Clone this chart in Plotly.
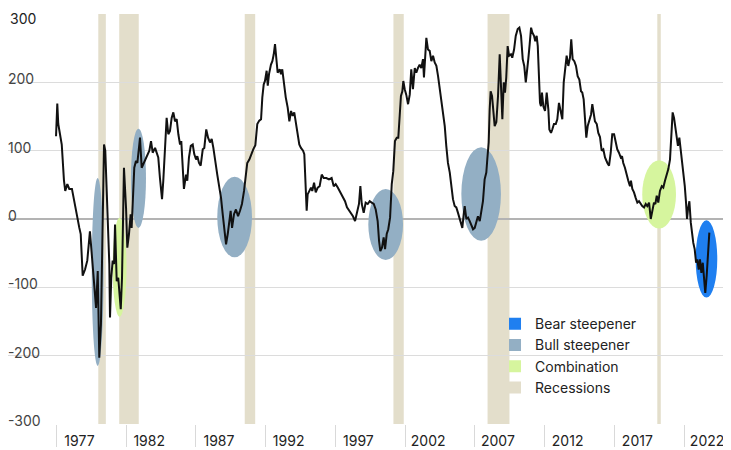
import plotly.graph_objects as go

# 10y - 2y spread (bp)
years = [
    1976.97, 1977.06, 1977.13, 1977.38, 1977.54, 1977.63, 1977.78, 1977.92, 1978.11, 1978.26,
    1978.45, 1978.64, 1978.74, 1978.88, 1979.05, 1979.21, 1979.40, 1979.57, 1979.71, 1979.84,
    1979.96, 1980.07, 1980.19, 1980.32, 1980.41, 1980.50, 1980.65, 1980.79, 1980.84, 1980.93,
    1981.03, 1981.13, 1981.20, 1981.32, 1981.43, 1981.61, 1981.70, 1981.84, 1981.99, 1982.08,
    1982.20, 1982.32, 1982.39, 1982.51, 1982.58, 1982.70, 1982.80, 1982.94, 1982.99, 1983.11,
    1983.28, 1983.47, 1983.66, 1983.78, 1983.90, 1984.07, 1984.30, 1984.42, 1984.57, 1984.66,
    1984.78, 1984.90, 1985.02, 1985.14, 1985.26, 1985.38, 1985.50, 1985.62, 1985.74, 1985.86,
    1985.95, 1986.05, 1986.14, 1986.29, 1986.38, 1986.50, 1986.63, 1986.77, 1986.88, 1987.01,
    1987.10, 1987.22, 1987.34, 1987.49, 1987.60, 1987.74, 1987.87, 1988.01, 1988.13, 1988.25,
    1988.37, 1988.53, 1988.68, 1988.80, 1988.92, 1989.03, 1989.16, 1989.28, 1989.39, 1989.49,
    1989.59, 1989.73, 1989.87, 1990.02, 1990.16, 1990.30, 1990.45, 1990.59, 1990.68, 1990.83,
    1990.97, 1991.11, 1991.26, 1991.40, 1991.54, 1991.67, 1991.76, 1991.86, 1991.95, 1992.07,
    1992.15, 1992.24, 1992.38, 1992.48, 1992.58, 1992.67, 1992.76, 1992.86, 1993.01, 1993.10,
    1993.19, 1993.29, 1993.44, 1993.58, 1993.70, 1993.82, 1993.94, 1994.05, 1994.15, 1994.30,
    1994.41, 1994.53, 1994.68, 1994.77, 1994.87, 1994.94, 1995.01, 1995.11, 1995.25, 1995.34,
    1995.47, 1995.59, 1995.73, 1995.87, 1996.02, 1996.16, 1996.35, 1996.54, 1996.73, 1996.88,
    1997.02, 1997.17, 1997.31, 1997.45, 1997.60, 1997.69, 1997.83, 1997.98, 1998.12, 1998.26,
    1998.41, 1998.55, 1998.69, 1998.79, 1998.89, 1999.03, 1999.17, 1999.32, 1999.46, 1999.60,
    1999.75, 1999.89, 2000.03, 2000.13, 2000.22, 2000.34, 2000.46, 2000.56, 2000.68, 2000.79,
    2000.92, 2001.04, 2001.15, 2001.27, 2001.40, 2001.51, 2001.61, 2001.70, 2001.80, 2001.87,
    2001.97, 2002.08, 2002.21, 2002.33, 2002.44, 2002.56, 2002.69, 2002.80, 2002.92, 2003.04,
    2003.16, 2003.28, 2003.35, 2003.45, 2003.52, 2003.64, 2003.76, 2003.88, 2004.00, 2004.12,
    2004.24, 2004.36, 2004.48, 2004.59, 2004.72, 2004.84, 2004.95, 2005.07, 2005.20, 2005.31,
    2005.43, 2005.55, 2005.67, 2005.79, 2005.91, 2006.03, 2006.10, 2006.20, 2006.27, 2006.39,
    2006.51, 2006.63, 2006.74, 2006.87, 2006.99, 2007.10, 2007.22, 2007.35, 2007.46, 2007.58,
    2007.70, 2007.82, 2007.89, 2007.99, 2008.06, 2008.13, 2008.23, 2008.32, 2008.42, 2008.54,
    2008.66, 2008.78, 2008.87, 2008.97, 2009.07, 2009.16, 2009.25, 2009.35, 2009.45, 2009.59,
    2009.68, 2009.81, 2009.93, 2010.07, 2010.19, 2010.31, 2010.43, 2010.54, 2010.65, 2010.74,
    2010.83, 2010.93, 2011.03, 2011.12, 2011.24, 2011.33, 2011.43, 2011.51, 2011.60, 2011.67,
    2011.74, 2011.81, 2011.91, 2012.03, 2012.15, 2012.27, 2012.34, 2012.46, 2012.55, 2012.67,
    2012.80, 2012.91, 2013.03, 2013.13, 2013.27, 2013.37, 2013.46, 2013.58, 2013.70, 2013.82,
    2013.91, 2014.01, 2014.13, 2014.25, 2014.37, 2014.49, 2014.61, 2014.70, 2014.80, 2014.90,
    2014.99, 2015.09, 2015.21, 2015.33, 2015.42, 2015.52, 2015.61, 2015.74, 2015.85, 2015.97,
    2016.09, 2016.21, 2016.33, 2016.50, 2016.62, 2016.74, 2016.85, 2016.98, 2017.10, 2017.21,
    2017.33, 2017.46, 2017.55, 2017.64, 2017.76, 2017.89, 2018.00, 2018.12, 2018.19, 2018.29,
    2018.41, 2018.53, 2018.65, 2018.77, 2018.89, 2019.00, 2019.13, 2019.25, 2019.36, 2019.49,
    2019.61, 2019.72, 2019.84, 2019.94, 2020.04, 2020.15, 2020.27, 2020.40, 2020.51, 2020.63,
    2020.75, 2020.87, 2020.99, 2021.08, 2021.18, 2021.28, 2021.37, 2021.47, 2021.56, 2021.66,
    2021.76, 2021.85, 2021.94, 2022.05, 2022.14, 2022.21, 2022.28, 2022.38, 2022.48, 2022.57,
    2022.66, 2022.76, 2022.86, 2022.95, 2023.05, 2023.14, 2023.24, 2023.34, 2023.43, 2023.52,
    2023.62, 2023.72, 2023.81,
]
spread = [
    121, 169, 139, 109, 56, 41, 51, 44, 44, 26,
    7, -13, -22, -83, -74, -61, -18, -61, -100, -130,
    -76, -203, -154, 26, 109, 100, 2, -66, -144, -86,
    -61, -66, -8, -91, -86, -132, -86, 75, 16, -42,
    -22, 7, -13, 51, 75, 85, 82, 109, 119, 75,
    82, 90, 100, 114, 97, 104, 90, 60, 29, 56,
    109, 148, 124, 129, 148, 156, 143, 146, 124, 109,
    114, 65, 44, 65, 56, 90, 107, 109, 95, 87,
    92, 82, 78, 102, 104, 131, 119, 112, 117, 104,
    85, 65, 46, 31, 7, -13, -37, -22, 2, 12,
    -13, 7, 14, 4, 12, 22, 41, 70, 82, 87,
    95, 102, 108, 139, 144, 146, 178, 197, 202, 217,
    195, 212, 226, 231, 241, 256, 236, 214, 219, 212,
    219, 202, 178, 163, 143, 158, 151, 156, 143, 119,
    109, 104, 100, 95, 46, 12, 36, 41, 46, 41,
    53, 39, 46, 48, 65, 60, 60, 58, 60, 48,
    51, 46, 41, 36, 31, 26, 17, 12, 9, 4,
    -3, 12, 22, 48, 22, 9, 24, 22, 26, 24,
    22, 14, -3, -32, -47, -42, -27, -44, -22, -15,
    2, 51, 70, 114, 119, 119, 160, 180, 187, 202,
    190, 182, 168, 182, 219, 190, 221, 214, 221, 226,
    221, 234, 207, 239, 265, 248, 246, 231, 239, 229,
    224, 209, 190, 170, 153, 136, 107, 82, 68, 48,
    29, 19, 17, 9, 0, -5, -13, 7, 19, 0,
    2, -3, -10, -15, -13, -5, 4, -3, 14, 26,
    58, 68, 87, 112, 160, 187, 180, 160, 136, 142,
    180, 241, 200, 146, 200, 185, 207, 253, 239, 241,
    236, 248, 268, 278, 280, 268, 234, 224, 200, 214,
    234, 256, 280, 273, 268, 260, 268, 253, 214, 170,
    165, 185, 165, 158, 185, 160, 131, 126, 131, 139,
    139, 146, 170, 160, 146, 200, 219, 239, 224, 236,
    263, 234, 231, 224, 209, 204, 187, 185, 175, 151,
    119, 136, 143, 153, 168, 151, 143, 139, 126, 120,
    100, 102, 90, 82, 78, 97, 124, 124, 114, 102,
    97, 90, 92, 82, 75, 63, 56, 48, 56, 44,
    39, 31, 24, 26, 22, 19, 17, 22, 19, 24,
    0, 12, 24, 22, 34, 24, 41, 48, 46, 56,
    63, 73, 87, 121, 156, 148, 136, 121, 107, 119,
    102, 87, 68, 48, 24, 0, 14, 26, -5, -25,
    -35, -44, -64, -59, -74, -59, -79, -64, -93, -108,
    -83, -49, -20,
]

# recessions (start, end in years)
rec_start = [1980.00, 1981.50, 1990.50, 2001.16, 2007.91, 2020.08]
rec_end = [1980.54, 1982.90, 1991.25, 2001.90, 2009.48, 2020.33]

# highlighted episodes: type, year span, spread span
ep_kind = ["Bull steepener", "Combination", "Bull steepener", "Bull steepener",
           "Bull steepener", "Bull steepener", "Combination", "Bear steepener"]
ep_x0 = [1979.53, 1981.03, 1982.34, 1988.53, 1999.36, 2006.03, 2019.00, 2022.83]
ep_x1 = [1980.38, 1982.02, 1983.42, 1991.02, 2001.85, 2008.87, 2021.42, 2024.38]
ep_y0 = [-215, -143, -13, -56, -60, -32, -14, -115]
ep_y1 = [60, 2, 132, 62, 44, 105, 86, -2]

colors = {
    "Bear steepener": "#1f7ff0",
    "Bull steepener": "#93afc4",
    "Combination": "#d6f59e",
    "Recessions": "#e3decb",
}
tick_years = [1977, 1982, 1987, 1992, 1997, 2002, 2007, 2012, 2017, 2022]
y_ticks = [-300, -200, -100, 0, 100, 200, 300]
font = "Inter"

fig = go.Figure()

for s, e in zip(rec_start, rec_end):
    fig.add_shape(type="rect", xref="x", yref="paper", x0=s, x1=e, y0=0, y1=1,
                  fillcolor=colors["Recessions"], line_width=0, layer="between")

for k, a, b, c, d in zip(ep_kind, ep_x0, ep_x1, ep_y0, ep_y1):
    fig.add_shape(type="circle", xref="x", yref="y", x0=a, x1=b, y0=c, y1=d,
                  fillcolor=colors[k], line_width=0, layer="between")

fig.add_trace(go.Scatter(x=years, y=spread, mode="lines",
                         line=dict(color="#111111", width=2),
                         showlegend=False, hoverinfo="x+y"))

# legend entries
for name in ["Bear steepener", "Bull steepener", "Combination", "Recessions"]:
    fig.add_trace(go.Scatter(x=[None], y=[None], mode="markers", name=name,
                             marker=dict(symbol="square", size=9, color=colors[name])))

# top label would be clipped by the page edge, so it is drawn just under the top
fig.add_annotation(x=0, y=1, xref="paper", yref="paper", text=str(y_ticks[-1]),
                   showarrow=False, xanchor="left", yanchor="top",
                   xshift=0, yshift=6, font=dict(size=14, color="#222222"))

# page body adds an 8px offset, so the figure is sized to the visible area
fig.update_layout(
    width=723,
    height=442,
    margin=dict(l=0, r=0, t=6, b=26, autoexpand=False),
    plot_bgcolor="white",
    paper_bgcolor="white",
    font=dict(family=font, size=14, color="#222222"),
    legend=dict(x=0.6736, y=0.2825, xanchor="left", yanchor="top",
                bgcolor="rgba(0,0,0,0)", font=dict(size=14), itemsizing="constant"),
)
fig.update_xaxes(
    range=[1973.526, 2025.364], automargin=False,
    tickmode="array", tickvals=tick_years, ticktext=[str(t) for t in tick_years],
    showgrid=False, zeroline=False, showline=False,
    ticks="outside", ticklen=22, tickcolor="#d9d9d9", tickwidth=1,
    ticklabelshift=23, ticklabelstandoff=-18, ticklabeloverflow="allow",
)
fig.update_yaxes(
    range=[-300, 300], automargin=False,
    tickmode="array", tickvals=y_ticks,
    ticktext=[str(v) for v in y_ticks[:-1]] + [""],
    showgrid=True, gridcolor="#dcdcdc", gridwidth=1,
    zeroline=True, zerolinecolor="#b3b3b3", zerolinewidth=2,
    showline=False, ticks="", ticklabelposition="inside top",
    ticklabelshift=7, ticklabelstandoff=-3, ticklabeloverflow="allow",
)

fig.write_html("out.html")
